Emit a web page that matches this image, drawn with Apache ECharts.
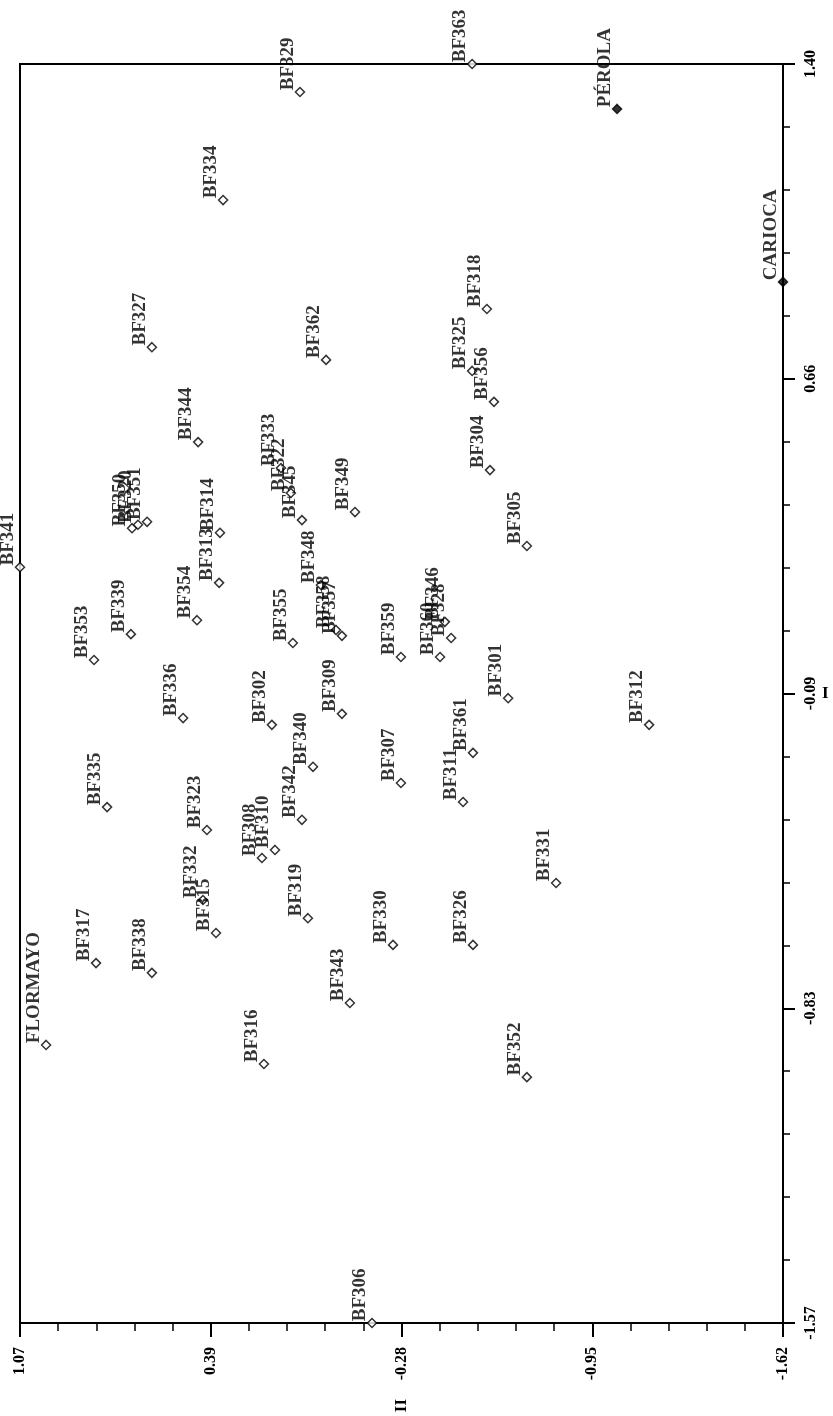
<!DOCTYPE html>
<html>
<head>
<meta charset="utf-8">
<script src="https://cdn.jsdelivr.net/npm/echarts@6.0.0/dist/echarts.min.js"></script>
<style>
html,body{margin:0;padding:0;background:#fff;}
#chart{width:833px;height:1416px;}
</style>
</head>
<body>
<div id="chart"></div>
<script>
// Genotype names and their scores on canonical axes II (horizontal here) and I (vertical here)
const genotypes = ['BF329','BF363','BF334','BF318','BF327','BF362','BF325','BF356','BF344','BF304',
  'BF333','BF322','BF345','BF349','BF350','BF320','BF351','BF314','BF341','BF305',
  'BF313','BF348','BF354','BF339','BF353','BF355','BF358','BF357','BF359','BF360',
  'BF346','BF328','BF301','BF336','BF302','BF309','BF312','BF361','BF340','BF307',
  'BF311','BF335','BF323','BF342','BF308','BF310','BF332','BF315','BF319','BF331',
  'BF330','BF326','BF317','BF338','BF343','FLORMAYO','BF316','BF352','BF306'];
const scoreII = [0.083,-0.524,0.354,-0.576,0.605,-0.009,-0.524,-0.601,0.442,-0.587,
  0.150,0.115,0.076,-0.111,0.675,0.654,0.622,0.365,1.070,-0.717,
  0.368,0.009,0.446,0.679,0.809,0.108,-0.044,-0.065,-0.273,-0.411,
  -0.428,-0.450,-0.651,0.495,0.182,-0.065,-1.148,-0.527,0.037,-0.273,
  -0.492,0.763,0.411,0.076,0.217,0.171,0.425,0.379,0.055,-0.820,
  -0.245,-0.527,0.802,0.605,-0.093,0.978,0.210,-0.717,-0.171];
const scoreI = [1.334,1.400,1.079,0.822,0.732,0.702,0.676,0.603,0.508,0.442,
  0.447,0.388,0.324,0.343,0.305,0.313,0.320,0.294,0.213,0.263,
  0.176,0.171,0.088,0.055,-0.006,0.034,0.065,0.051,0.001,0.001,
  0.084,0.046,-0.096,-0.143,-0.159,-0.133,-0.159,-0.225,-0.258,-0.296,
  -0.341,-0.353,-0.407,-0.383,-0.473,-0.454,-0.572,-0.650,-0.615,-0.532,
  -0.678,-0.678,-0.721,-0.744,-0.815,-0.914,-0.959,-0.990,-1.570];

// Check cultivars (filled markers)
const checkNames = ['PÉROLA','CARIOCA'];
const checkII = [-1.035,-1.620];
const checkI = [1.294,0.886];

// Tick labels
const xTickLabels = ['1.07','0.39','-0.28','-0.95','-1.62'];
const yTickLabels = ['1.40','0.66','-0.09','-0.83','-1.57'];

function nearestLabel(labels, v){
  let best = labels[0], d = Infinity;
  for (const l of labels){ const dd = Math.abs(parseFloat(l) - v); if (dd < d){ d = dd; best = l; } }
  return best;
}

const xMax = parseFloat(xTickLabels[0]);
const xMin = parseFloat(xTickLabels[xTickLabels.length - 1]);
const yMax = parseFloat(yTickLabels[0]);
const yMin = parseFloat(yTickLabels[yTickLabels.length - 1]);

const labelFont = {fontFamily:'Liberation Serif', fontWeight:'bold', fontSize:19, color:'#000'};
const pointLabel = Object.assign({
  show:true, formatter:'{b}', position:[-6.5, 3.5], rotate:90,
  align:'left', verticalAlign:'middle'
}, labelFont);

const chart = echarts.init(document.getElementById('chart'), null, {renderer:'canvas'});
chart.setOption({
  backgroundColor:'#fff',
  animation:false,
  grid:{left:20, right:50, top:64, bottom:93, show:true, borderColor:'#000', borderWidth:2},
  xAxis:{
    type:'value', min:xMin, max:xMax, interval:(xMax - xMin)/4, inverse:true, position:'bottom',
    splitLine:{show:false},
    axisLine:{show:true, onZero:false, lineStyle:{color:'#000', width:2}},
    axisTick:{show:true, length:14, lineStyle:{color:'#000', width:2}},
    minorTick:{show:true, splitNumber:5, length:8, lineStyle:{color:'#000', width:1.5}},
    axisLabel:{rotate:90, margin:24, fontFamily:'Liberation Serif', fontWeight:'bold', fontSize:16, color:'#000',
      formatter:function(v){ return nearestLabel(xTickLabels, v); }},
    name:'II', nameLocation:'middle', nameGap:76, nameRotate:90,
    nameTextStyle:{fontFamily:'Liberation Serif', fontWeight:'bold', fontSize:17, color:'#000'}
  },
  yAxis:{
    type:'value', min:yMin, max:yMax, interval:(yMax - yMin)/4, position:'right',
    splitLine:{show:false},
    axisLine:{show:true, onZero:false, lineStyle:{color:'#000', width:2}},
    axisTick:{show:true, length:12, lineStyle:{color:'#000', width:2}},
    minorTick:{show:true, splitNumber:5, length:7, lineStyle:{color:'#000', width:1.5}},
    axisLabel:{rotate:90, margin:20, fontFamily:'Liberation Serif', fontWeight:'bold', fontSize:16, color:'#000',
      formatter:function(v){ return nearestLabel(yTickLabels, v); }},
    name:'I', nameLocation:'middle', nameGap:35, nameRotate:0,
    nameTextStyle:{fontFamily:'Liberation Serif', fontWeight:'bold', fontSize:17, color:'#000'}
  },
  series:[
    {
      type:'scatter', clip:false, symbol:'diamond', symbolSize:9,
      itemStyle:{color:'#fff', borderColor:'#000', borderWidth:1.5},
      label:pointLabel,
      data:genotypes.map(function(n,i){ return {name:n, value:[scoreII[i], scoreI[i]]}; })
    },
    {
      type:'scatter', clip:false, symbol:'diamond', symbolSize:9,
      itemStyle:{color:'#000', borderColor:'#000', borderWidth:1.5},
      label:pointLabel,
      data:checkNames.map(function(n,i){ return {name:n, value:[checkII[i], checkI[i]]}; })
    }
  ]
});
</script>
</body>
</html>
